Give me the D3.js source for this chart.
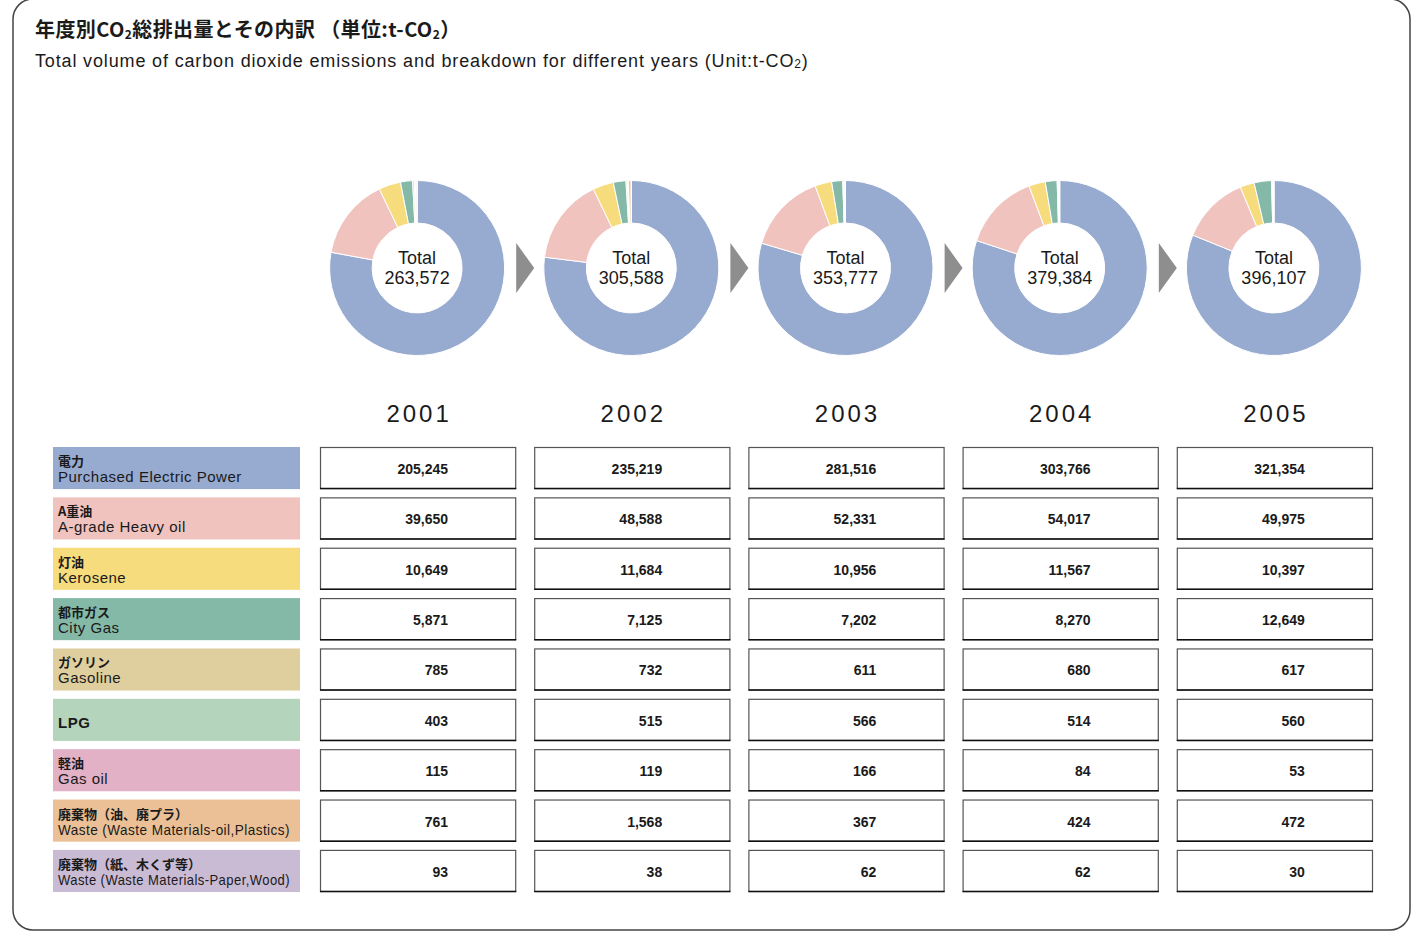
<!DOCTYPE html>
<html>
<head>
  <meta charset="utf-8">
  <title>CO2 emissions by year</title>
  <script src="https://d3js.org/d3.v7.min.js"></script>
  <style>
    body { margin: 0; background: #fff; }
    svg text { font-family: "Liberation Sans", Arial, "Noto Sans CJK JP", sans-serif; fill: #1a1a1a; }
    .jp { font-family: "Noto Sans CJK JP", sans-serif; }
  </style>
</head>
<body>
<script>
// chart data
var years = ["2001", "2002", "2003", "2004", "2005"];
var totals = [263572, 305588, 353777, 379384, 396107];
var catJp = ["電力", "A重油", "灯油", "都市ガス", "ガソリン", "", "軽油", "廃棄物（油、廃プラ）", "廃棄物（紙、木くず等）"];
var catEn = ["Purchased Electric Power", "A-grade Heavy oil", "Kerosene", "City Gas", "Gasoline", "LPG", "Gas oil",
             "Waste (Waste Materials-oil,Plastics)", "Waste (Waste Materials-Paper,Wood)"];
var colors = ["#97aacf", "#f0c3bf", "#f6dc7c", "#84b9a8", "#dfcf9f", "#b4d5bb", "#e2b1c6", "#ebc096", "#cabbd5"];
// values[category][year]
var electric = [205245, 235219, 281516, 303766, 321354];
var heavyOil = [39650, 48588, 52331, 54017, 49975];
var kerosene = [10649, 11684, 10956, 11567, 10397];
var cityGas = [5871, 7125, 7202, 8270, 12649];
var gasoline = [785, 732, 611, 680, 617];
var lpg = [403, 515, 566, 514, 560];
var gasOil = [115, 119, 166, 84, 53];
var wasteOil = [761, 1568, 367, 424, 472];
var wastePaper = [93, 38, 62, 62, 30];
var values = [electric, heavyOil, kerosene, cityGas, gasoline, lpg, gasOil, wasteOil, wastePaper];

var w = 1414, h = 932;
var fmt = d3.format(",");

var svg = d3.select("body").append("svg")
  .attr("width", w)
  .attr("height", h);

// outer frame
svg.append("rect")
  .attr("x", 13).attr("y", -1)
  .attr("width", 1397).attr("height", 931)
  .attr("rx", 20).attr("ry", 20)
  .attr("fill", "none")
  .attr("stroke", "#444")
  .attr("stroke-width", 1.5);

// titles
var t1 = svg.append("text").attr("x", 35).attr("y", 37)
  .attr("class", "jp").attr("font-size", 20).attr("font-weight", "bold")
  .attr("letter-spacing", 0.4);
t1.append("tspan").text("年度別CO");
t1.append("tspan").attr("font-size", 12).attr("dy", 2).text("2");
t1.append("tspan").attr("dy", -2).text("総排出量とその内訳 （単位:t-CO");
t1.append("tspan").attr("font-size", 12).attr("dy", 2).text("2");
t1.append("tspan").attr("dy", -2).text("）");

var t2 = svg.append("text").attr("x", 35).attr("y", 67)
  .attr("font-size", 18).attr("letter-spacing", 0.85);
t2.append("tspan").text("Total volume of carbon dioxide emissions and breakdown for different years (Unit:t-CO");
t2.append("tspan").attr("font-size", 12).attr("dy", 1).text("2");
t2.append("tspan").attr("dy", -1).text(")");

// scales
var xScale = d3.scaleBand()
  .domain(years)
  .range([320, 1373])
  .paddingInner(0.084);

var yScale = d3.scaleBand()
  .domain(catEn)
  .range([447, 892])
  .paddingInner(0.164);

// donuts
var pie = d3.pie().sort(null).value(function(d) { return d; });
var arc = d3.arc().innerRadius(45).outerRadius(87.5);
var donutY = 268;

years.forEach(function(yr, i) {
  var cx = xScale(yr) + xScale.bandwidth() / 2 - 1;
  var g = svg.append("g").attr("transform", "translate(" + cx + "," + donutY + ")");
  var slices = values.map(function(v) { return v[i]; });
  g.selectAll("path")
    .data(pie(slices))
    .enter()
    .append("path")
    .attr("d", arc)
    .attr("fill", function(d, k) { return colors[k]; })
    .attr("stroke", "#fff")
    .attr("stroke-width", 1);
  g.append("text").attr("text-anchor", "middle").attr("y", -4)
    .attr("font-size", 18).text("Total");
  g.append("text").attr("text-anchor", "middle").attr("y", 16)
    .attr("font-size", 18).text(fmt(totals[i]));

  // year label
  svg.append("text")
    .attr("x", cx + 2)
    .attr("y", 422)
    .attr("text-anchor", "middle")
    .attr("font-size", 24)
    .attr("letter-spacing", 3)
    .text(yr);

  // arrow to next year
  if (i < years.length - 1) {
    var ax = xScale(yr) + xScale.bandwidth();
    svg.append("path")
      .attr("d", "M" + ax + "," + (donutY - 25) + "L" + (ax + 18) + "," + donutY + "L" + ax + "," + (donutY + 25) + "Z")
      .attr("fill", "#8e8e8e");
  }
});

// legend/category boxes
var rows = svg.selectAll("g.row")
  .data(catEn)
  .enter()
  .append("g")
  .attr("class", "row")
  .attr("transform", function(d) { return "translate(0," + yScale(d) + ")"; });

rows.append("rect")
  .attr("x", 53).attr("width", 247)
  .attr("height", yScale.bandwidth())
  .attr("fill", function(d, i) { return colors[i]; });

rows.append("text")
  .attr("class", "jp")
  .attr("x", 58).attr("y", 19)
  .attr("font-size", 13)
  .attr("font-weight", "bold")
  .text(function(d, i) { return catJp[i]; });

rows.append("text")
  .attr("x", 58)
  .attr("y", function(d, i) { return catJp[i] ? 35 : 29; })
  .attr("font-size", 15)
  .attr("letter-spacing", 0.5)
  .attr("font-weight", function(d, i) { return catJp[i] ? "normal" : "bold"; })
  .text(function(d) { return d; })
  .each(function() {
    if (this.getComputedTextLength() > 232) {
      d3.select(this).attr("textLength", 232).attr("lengthAdjust", "spacingAndGlyphs");
    }
  });

// value cells
years.forEach(function(yr, i) {
  var x0 = xScale(yr);
  var cells = svg.selectAll("g.cell-" + yr)
    .data(values)
    .enter()
    .append("g")
    .attr("transform", function(v, k) { return "translate(" + x0 + "," + yScale(catEn[k]) + ")"; });
  cells.append("rect")
    .attr("x", 0.5).attr("y", 0.5)
    .attr("width", xScale.bandwidth() - 1)
    .attr("height", yScale.bandwidth() - 1)
    .attr("fill", "#fff")
    .attr("stroke", "#555")
    .attr("stroke-width", 1.2);
  cells.append("line")
    .attr("x1", 0).attr("x2", xScale.bandwidth())
    .attr("y1", yScale.bandwidth() - 0.5).attr("y2", yScale.bandwidth() - 0.5)
    .attr("stroke", "#111").attr("stroke-width", 1.5);
  cells.append("text")
    .attr("x", 128)
    .attr("y", yScale.bandwidth() / 2 + 6)
    .attr("text-anchor", "end")
    .attr("font-size", 14)
    .attr("font-weight", "bold")
    .text(function(v) { return fmt(v[i]); });
});
</script>
</body>
</html>
